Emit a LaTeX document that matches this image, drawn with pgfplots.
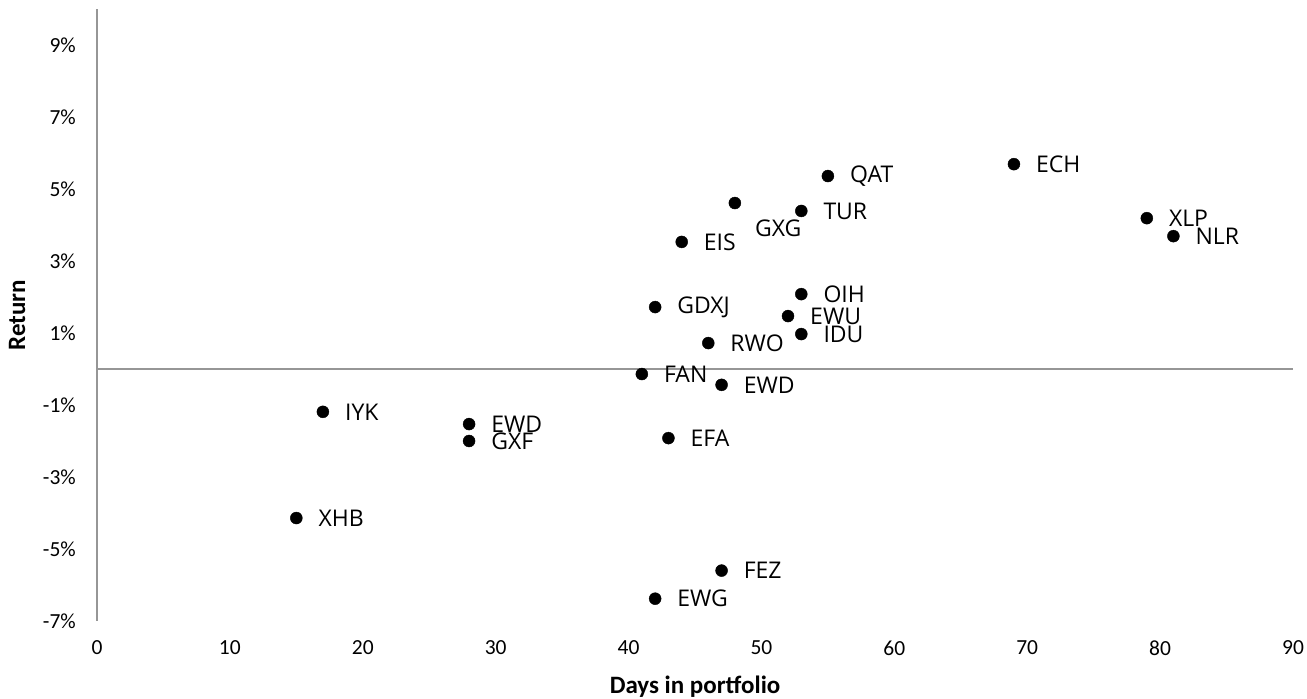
\documentclass[border=0pt]{standalone}
\usepackage{pgfplots}
\pgfplotsset{compat=1.18}
\usepackage{fontspec}
\setmainfont{Carlito}
\newfontfamily\lab{Open Sans}
\begin{document}
\begin{tikzpicture}
\useasboundingbox (0,0) rectangle (1307pt,699pt);
\begin{axis}[
  at={(97pt,78pt)}, anchor=south west,
  scale only axis, width=1196pt, height=612pt,
  xmin=0, xmax=90, ymin=-7, ymax=10,
  axis x line*=bottom, axis y line*=left,
  x axis line style={draw=none},
  y axis line style={draw={rgb,255:red,150;green,150;blue,150}, line width=1.6pt},
  major tick length=0pt,
  xtick={0,10,20,30,40,50,60,70,80,90},
  xticklabels={0,10,20,30,40,50,60,70,80,90},
  ytick={-7,-5,-3,-1,1,3,5,7,9},
  yticklabels={-7\%,-5\%,-3\%,-1\%,1\%,3\%,5\%,7\%,9\%},
  xticklabel style={anchor=center, yshift=-27pt, inner sep=0pt, font=\fontsize{21.5}{25}\selectfont},
  yticklabel style={anchor=east, xshift=-21pt, inner sep=0pt, font=\fontsize{21.5}{25}\selectfont},
  xlabel={Days in portfolio},
  ylabel={Return},
  every axis x label/.style={at={(axis description cs:0.5,0)}, anchor=center, yshift=-66pt, inner sep=0pt, font=\fontsize{25}{29}\selectfont\bfseries},
  every axis y label/.style={at={(axis description cs:0,0.5)}, anchor=center, xshift=-80pt, rotate=90, inner sep=0pt, font=\fontsize{25}{29}\selectfont\bfseries},
  clip=false,
]
\addplot[draw={rgb,255:red,150;green,150;blue,150}, line width=1.6pt, forget plot] coordinates {(0,0) (90,0)};
\addplot[only marks, mark=*, mark size=6pt, black,
  nodes near coords, point meta=explicit symbolic,
  every node near coord/.style={anchor=west, xshift=22pt, inner sep=0pt, text=black, font=\lab\fontsize{23}{27}\selectfont}]
  table[meta=label] {
x y label
17 -1.19 IYK
28 -1.53 EWD
28 -2.00 GXF
15 -4.14 XHB
41 -0.14 FAN
47 -0.44 EWD
43 -1.92 EFA
47 -5.60 FEZ
42 -6.38 EWG
46 0.72 RWO
53 0.97 IDU
52 1.47 EWU
53 2.08 OIH
42 1.72 GDXJ
44 3.53 EIS
53 4.39 TUR
55 5.36 QAT
69 5.69 ECH
79 4.19 XLP
81 3.69 NLR
};
\addplot[only marks, mark=*, mark size=6pt, black,
  nodes near coords, point meta=explicit symbolic,
  every node near coord/.style={anchor=west, xshift=20pt, yshift=-25pt, inner sep=0pt, text=black, font=\lab\fontsize{23}{27}\selectfont}]
  table[meta=label] {
x y label
48 4.61 GXG
};
\end{axis}
\end{tikzpicture}
\end{document}
